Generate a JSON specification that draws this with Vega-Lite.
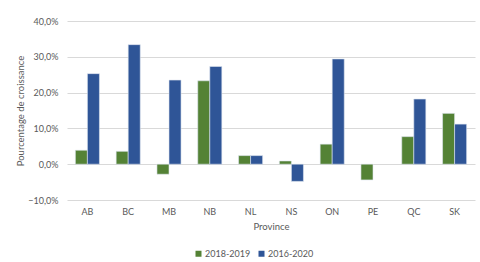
{
  "$schema": "https://vega.github.io/schema/vega-lite/v6.json",
  "autosize": "none",
  "padding": {"left": 67, "top": 21, "right": 5, "bottom": 62},
  "width": 408,
  "height": 179,
  "background": "white",
  "config": {
    "locale": {"number": {"decimal": ",", "thousands": " ", "grouping": [3], "currency": ["", " $"], "percent": "%"}},
    "font": "Lato",
    "view": {"stroke": null},
    "axis": {"labelColor": "#595959", "titleColor": "#595959", "labelFontSize": 9, "titleFontSize": 9.5, "titleFontWeight": "normal", "labelFont": "Lato", "titleFont": "Lato"},
    "legend": {"labelColor": "#595959", "labelFontSize": 9, "labelFont": "Lato"}
  },
  "data": {
    "values": [
      {"province": "AB", "periode": "2018-2019", "valeur": 0.039},
      {"province": "AB", "periode": "2016-2020", "valeur": 0.253},
      {"province": "BC", "periode": "2018-2019", "valeur": 0.036},
      {"province": "BC", "periode": "2016-2020", "valeur": 0.334},
      {"province": "MB", "periode": "2018-2019", "valeur": -0.028},
      {"province": "MB", "periode": "2016-2020", "valeur": 0.235},
      {"province": "NB", "periode": "2018-2019", "valeur": 0.233},
      {"province": "NB", "periode": "2016-2020", "valeur": 0.273},
      {"province": "NL", "periode": "2018-2019", "valeur": 0.024},
      {"province": "NL", "periode": "2016-2020", "valeur": 0.024},
      {"province": "NS", "periode": "2018-2019", "valeur": 0.009},
      {"province": "NS", "periode": "2016-2020", "valeur": -0.048},
      {"province": "ON", "periode": "2018-2019", "valeur": 0.056},
      {"province": "ON", "periode": "2016-2020", "valeur": 0.294},
      {"province": "PE", "periode": "2018-2019", "valeur": -0.044},
      {"province": "QC", "periode": "2018-2019", "valeur": 0.077},
      {"province": "QC", "periode": "2016-2020", "valeur": 0.182},
      {"province": "SK", "periode": "2018-2019", "valeur": 0.142},
      {"province": "SK", "periode": "2016-2020", "valeur": 0.112}
    ]
  },
  "mark": {"type": "bar", "stroke": "#dfe6f0", "strokeWidth": 0.6},
  "encoding": {
    "x": {
      "field": "province", "type": "nominal", "title": "Province",
      "scale": {"paddingInner": 0.41, "paddingOuter": 0.205},
      "axis": {"labelAngle": 0, "domain": false, "ticks": false, "labelPadding": 7, "titlePadding": 5}
    },
    "xOffset": {"field": "periode", "type": "nominal", "scale": {"domain": ["2018-2019", "2016-2020"]}},
    "y": {
      "field": "valeur", "type": "quantitative", "title": "Pourcentage de croissance",
      "scale": {"domain": [-0.1, 0.4], "nice": false, "zero": false},
      "axis": {"format": ".1%", "values": [-0.1, 0, 0.1, 0.2, 0.3, 0.4], "domain": false, "ticks": false, "labelPadding": 9, "gridColor": "#d9d9d9", "gridWidth": 1, "titlePadding": 2}
    },
    "color": {
      "field": "periode", "type": "nominal",
      "scale": {"domain": ["2018-2019", "2016-2020"], "range": ["#548235", "#2f5597"]},
      "legend": {"title": null, "orient": "none", "legendX": 127, "legendY": 228, "direction": "horizontal", "symbolType": "square", "symbolSize": 36, "symbolStrokeWidth": 0, "columnPadding": 6, "labelOffset": 2}
    }
  }
}
